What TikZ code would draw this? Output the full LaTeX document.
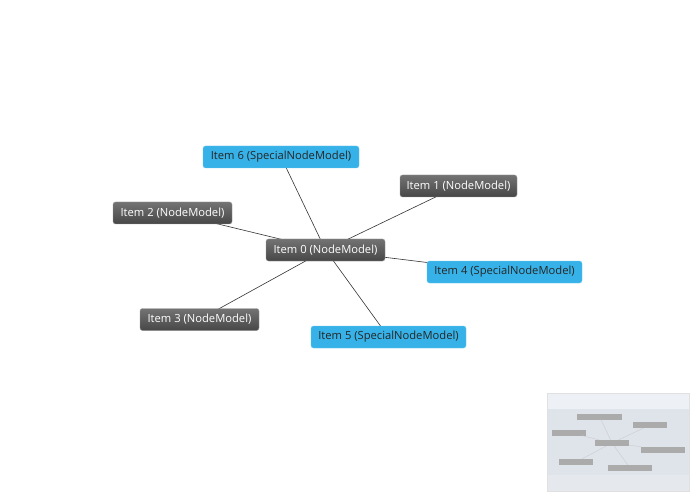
\documentclass[tikz,border=0pt]{standalone}
\usepackage{fontspec}
\setmainfont{Open Sans}
\usepackage{tikz}
\usetikzlibrary{positioning, backgrounds}

\definecolor{nodeblue}{HTML}{36B2E8}
\definecolor{mapbg}{HTML}{DFE3EA}
\definecolor{maphead}{HTML}{EDF0F4}
\definecolor{mapfoot}{HTML}{E5E8ED}

\begin{document}
\begin{tikzpicture}[
  x=1pt, y=-1pt,
  item/.style={rounded corners=2.5pt, minimum height=22pt, inner sep=0pt,
               font=\fontsize{11.2}{12}\selectfont},
  plain/.style={item, draw=black!40, top color=black!55, bottom color=black!72,
                text=white},
  special/.style={item, draw=nodeblue!70!white, fill=nodeblue, text=black!85},
  link/.style={draw=black!80, line width=0.6pt},
  mini/.style={fill=black!33, inner sep=0pt, minimum height=6pt},
  minilink/.style={draw=black!20, line width=0.4pt}
]
\useasboundingbox (0,0) rectangle (696,497);

% graph
\node[plain, minimum width=119pt] (n0) at (325.5,250) {Item 0 (NodeModel)};
\node[plain, minimum width=117pt] (n1) at (458.5,186) {Item 1 (NodeModel)};
\node[plain, minimum width=119pt] (n2) at (172.5,213) {Item 2 (NodeModel)};
\node[plain, minimum width=119pt] (n3) at (199.5,319.5) {Item 3 (NodeModel)};
\node[special, minimum width=155pt] (n4) at (504.5,272) {Item 4 (SpecialNodeModel)};
\node[special, minimum width=155pt] (n5) at (388.5,337) {Item 5 (SpecialNodeModel)};
\node[special, minimum width=156pt] (n6) at (281,157) {Item 6 (SpecialNodeModel)};

\begin{scope}[on background layer]
\foreach \k in {1,...,6}
  \draw[link] (n0.center) -- (n\k.center);
\end{scope}

% overview
\fill[maphead] (547,393) rectangle (689,409);
\fill[mapbg] (547,409) rectangle (689,475);
\fill[mapfoot] (547,475) rectangle (689,491);
\draw[black!12] (547,393) rectangle (689,491);

\node[mini, minimum width=34pt] (m0) at (612,443) {};
\node[mini, minimum width=34pt] (m1) at (650,425) {};
\node[mini, minimum width=34pt] (m2) at (569,432.5) {};
\node[mini, minimum width=34pt] (m3) at (576,462) {};
\node[mini, minimum width=44pt] (m4) at (663,449.5) {};
\node[mini, minimum width=44pt] (m5) at (630,468) {};
\node[mini, minimum width=45pt] (m6) at (599.5,416.5) {};
\foreach \k in {1,...,6}
  \draw[minilink] (m0) -- (m\k);
\end{tikzpicture}
\end{document}
